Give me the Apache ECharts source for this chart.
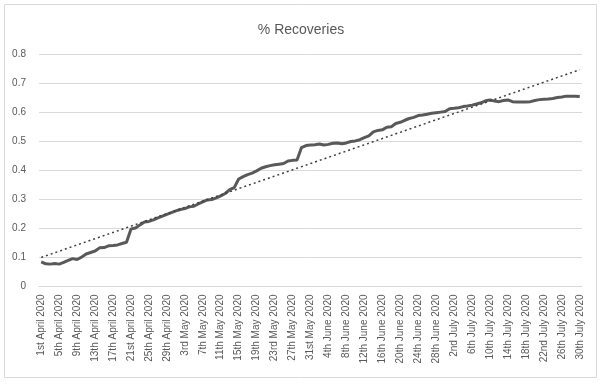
<!DOCTYPE html>
<html>
<head>
<meta charset="utf-8">
<script src="https://cdn.jsdelivr.net/npm/echarts@6/dist/echarts.min.js"></script>
<style>
html,body{margin:0;padding:0;background:#fff;}
#chart{width:602px;height:384px;}
</style>
</head>
<body>
<div id="chart"></div>
<script>
const title = "% Recoveries";
const monthNames = ["April", "May", "June", "July"];
const monthDays = [30, 31, 30, 30];
const yTicks = [0, 0.1, 0.2, 0.3, 0.4, 0.5, 0.6, 0.7, 0.8];

const recoveries = [
  0.085, 0.078, 0.077, 0.079, 0.077, 0.083, 0.090, 0.096, 0.093, 0.101,
  0.112, 0.117, 0.122, 0.133, 0.134, 0.140, 0.141, 0.143, 0.148, 0.152,
  0.198, 0.201, 0.212, 0.222, 0.224, 0.229, 0.236, 0.242, 0.248, 0.254,
  0.260, 0.265, 0.268, 0.274, 0.276, 0.284, 0.291, 0.298, 0.299, 0.305,
  0.312, 0.320, 0.333, 0.340, 0.370, 0.378, 0.385, 0.390, 0.398, 0.407,
  0.412, 0.416, 0.419, 0.421, 0.423, 0.432, 0.434, 0.435, 0.478, 0.485,
  0.487, 0.488, 0.490, 0.487, 0.489, 0.493, 0.494, 0.491, 0.494, 0.499,
  0.501, 0.505, 0.512, 0.518, 0.532, 0.537, 0.539, 0.548, 0.550, 0.561,
  0.565, 0.572, 0.578, 0.582, 0.588, 0.590, 0.593, 0.596, 0.598, 0.600,
  0.602, 0.612, 0.613, 0.615, 0.619, 0.621, 0.624, 0.628, 0.632, 0.639,
  0.642, 0.638, 0.636, 0.640, 0.642, 0.636, 0.635, 0.635, 0.635, 0.636,
  0.640, 0.643, 0.644, 0.645, 0.647, 0.650, 0.652, 0.655, 0.655, 0.655,
  0.654
];

// Linear trendline end points (first and last day)
const trendStart = 0.100;
const trendEnd = 0.746;

function ordinal(d) {
  if (d % 10 === 1 && d !== 11) return d + "st";
  if (d % 10 === 2 && d !== 12) return d + "nd";
  if (d % 10 === 3 && d !== 13) return d + "rd";
  return d + "th";
}
const categories = [];
monthNames.forEach((m, mi) => {
  for (let d = 1; d <= monthDays[mi]; d++) categories.push(ordinal(d) + " " + m + " 2020");
});

const trend = categories.map((c, i) => (i === 0 ? trendStart : (i === categories.length - 1 ? trendEnd : null)));

const chart = echarts.init(document.getElementById('chart'), null, {renderer: 'canvas'});
const font = "'Liberation Sans', 'DejaVu Sans', sans-serif";
chart.setOption({
  backgroundColor: '#ffffff',
  animation: false,
  title: {
    text: title,
    left: 'center',
    top: 18,
    textStyle: {fontFamily: font, fontSize: 14, fontWeight: 'normal', color: '#595959'}
  },
  graphic: [{
    type: 'rect',
    shape: {x: 4.5, y: 4.5, width: 592, height: 373},
    style: {fill: 'none', stroke: '#d9d9d9', lineWidth: 1},
    silent: true
  }],
  grid: {left: 39, right: 20, top: 54, bottom: 97.5, containLabel: false},
  xAxis: {
    type: 'category',
    data: categories,
    boundaryGap: true,
    axisLine: {show: true, lineStyle: {color: '#d9d9d9', width: 1}},
    axisTick: {show: false},
    axisLabel: {
      interval: 3,
      rotate: 90,
      fontFamily: font,
      fontSize: 10,
      color: '#595959',
      margin: 8
    }
  },
  yAxis: {
    type: 'value',
    min: yTicks[0],
    max: yTicks[yTicks.length - 1],
    interval: 0.1,
    axisLine: {show: false},
    axisTick: {show: false},
    axisLabel: {
      fontFamily: font,
      fontSize: 10,
      color: '#595959',
      margin: 13,
      formatter: v => String(Math.round(v * 10) / 10)
    },
    splitLine: {lineStyle: {color: '#d9d9d9', width: 1}}
  },
  series: [
    {
      name: 'Recoveries',
      type: 'line',
      data: recoveries,
      showSymbol: false,
      symbol: 'none',
      lineStyle: {color: '#595959', width: 3},
      z: 3
    },
    {
      name: 'Trend',
      type: 'line',
      data: trend,
      connectNulls: true,
      showSymbol: false,
      symbol: 'none',
      lineStyle: {color: '#404040', width: 1.5, type: [2, 3]},
      z: 4
    }
  ]
});
</script>
</body>
</html>
